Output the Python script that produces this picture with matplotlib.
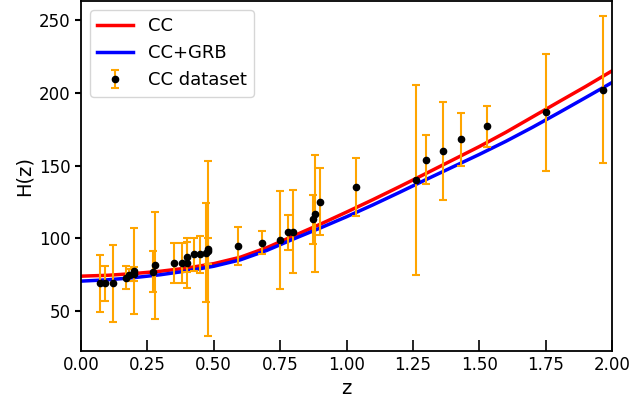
import numpy as np
import matplotlib
matplotlib.use("Agg")
import matplotlib.pyplot as plt

# CC data points: redshift, H(z), 1-sigma error
z_cc = [0.07, 0.09, 0.12, 0.17, 0.179, 0.199, 0.20, 0.27, 0.28, 0.352,
        0.3802, 0.40, 0.4004, 0.4247, 0.4497, 0.47, 0.4783, 0.48, 0.593, 0.68,
        0.75, 0.781, 0.80, 0.875, 0.88, 0.90, 1.037, 1.26, 1.30, 1.363,
        1.43, 1.53, 1.75, 1.965]
H_cc = [69.0, 69.0, 69.0, 73.0, 75.0, 75.6, 77.4, 77.0, 81.5, 83.0,
        83.0, 83.0, 87.0, 89.0, 89.0, 90.2, 91.5, 92.8, 95.0, 97.0,
        99.0, 104.0, 104.6, 113.0, 117.0, 125.0, 135.0, 140.0, 154.0, 160.0,
        168.0, 177.0, 186.5, 202.0]
err_cc = [19.6, 12.0, 26.2, 8.0, 4.0, 5.0, 29.6, 14.0, 36.6, 14.0,
          13.5, 17.0, 10.2, 11.2, 12.9, 34.0, 9.0, 60.0, 13.0, 8.0,
          33.6, 12.0, 28.5, 17.0, 40.0, 23.0, 20.0, 65.0, 17.0, 33.6,
          18.0, 14.0, 40.0, 50.4]

# best-fit H(z) curves
z_fit = [0.0, 0.1, 0.2, 0.3, 0.4, 0.5, 0.6, 0.7, 0.8, 0.9, 1.0,
         1.1, 1.2, 1.3, 1.4, 1.5, 1.6, 1.7, 1.8, 1.9, 2.0]
H_cc_fit = [74.0, 74.6, 75.8, 77.4, 79.6, 82.6, 87.0, 93.6, 101.6, 109.6, 118.0,
            126.6, 135.5, 144.6, 153.8, 163.0, 172.8, 183.3, 193.8, 204.2, 215.0]
H_grb_fit = [70.6, 71.5, 73.0, 75.0, 77.6, 80.8, 85.2, 91.7, 99.5, 107.0, 114.8,
             123.0, 131.6, 140.4, 149.0, 157.6, 166.6, 176.2, 186.3, 196.6, 207.0]

fig = plt.figure(figsize=(6.34, 4.09), dpi=100)
ax = fig.add_axes([81 / 634, 58 / 409, 531 / 634, 350 / 409])

ax.plot(z_fit, H_cc_fit, color="red", lw=2.5, label="CC")
ax.plot(z_fit, H_grb_fit, color="blue", lw=2.5, label="CC+GRB")
ax.errorbar(z_cc, H_cc, yerr=err_cc, fmt="o", color="black", ms=4.5,
            ecolor="orange", elinewidth=1.5, capsize=3, capthick=1.5,
            label="CC dataset")

ax.set_xlim(0, 2)
ax.set_ylim(22.6, 263)
ax.set_xticks(np.arange(0, 2.01, 0.25))
ax.set_yticks([50, 100, 150, 200, 250])
ax.set_xlabel("z", fontsize=14)
ax.set_ylabel("H(z)", fontsize=14)
ax.tick_params(axis="x", direction="in", length=8, width=1.2, labelsize=12)
ax.tick_params(axis="y", direction="out", length=4, width=1.5, labelsize=12)
for s in ax.spines.values():
    s.set_linewidth(1.3)

ax.legend(loc="upper left", fontsize=13)

fig.savefig("out.png", dpi=100)
